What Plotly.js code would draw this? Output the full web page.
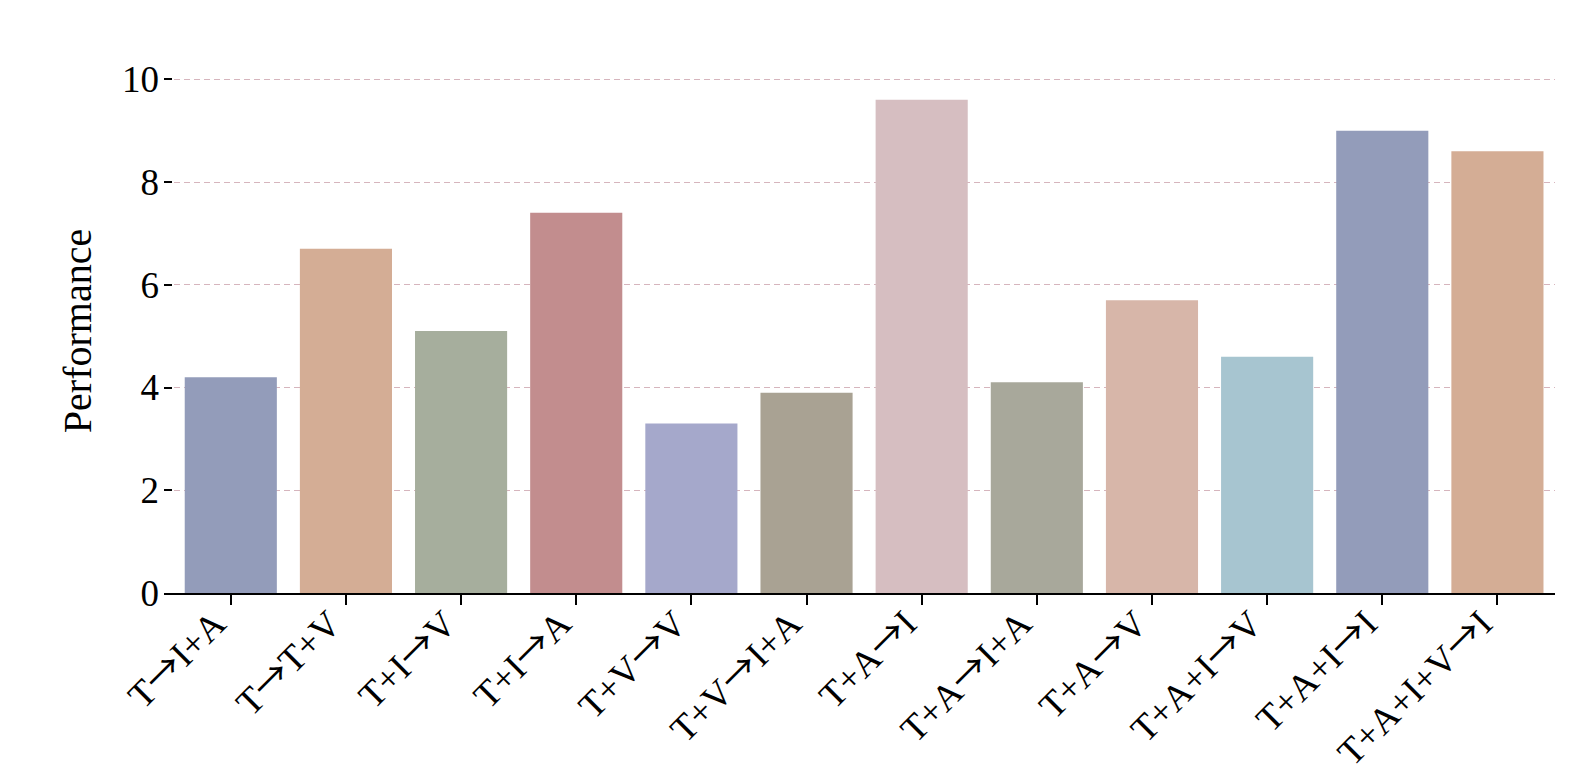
<!DOCTYPE html>
<html>
<head>
<meta charset="utf-8">
<script src="https://cdn.plot.ly/plotly-3.0.1.min.js"></script>
<style>html,body{margin:0;padding:0;background:#fff;}#chart{width:1594px;height:774px;}</style>
</head>
<body>
<div id="chart"></div>
<script>
const categories = ["T\u2192I+A","T\u2192T+V","T+I\u2192V","T+I\u2192A","T+V\u2192V","T+V\u2192I+A","T+A\u2192I","T+A\u2192I+A","T+A\u2192V","T+A+I\u2192V","T+A+I\u2192I","T+A+I+V\u2192I"];
const performance = [4.2, 6.7, 5.1, 7.4, 3.3, 3.9, 9.6, 4.1, 5.7, 4.6, 9.0, 8.6];
const barColors = ["#939cba","#d4ad95","#a6ae9d","#c28d8e","#a5a8cb","#a9a293","#d6bec1","#a8a89b","#d7b6a9","#a7c5d0","#939cba","#d4ad95"];
const yTicks = [0, 2, 4, 6, 8, 10];

const font = "Liberation Serif, Times New Roman, serif";
const arrowSpan = '<span style="font-family:Noto Sans CJK SC">\u2192</span>';
const tickText = categories.map(c => c.split("\u2192").join(arrowSpan));
const trace = {
  type: "bar",
  x: categories.map((c, i) => i),
  y: performance,
  width: 0.8,
  marker: {color: barColors, line: {width: 0}},
  hoverinfo: "x+y"
};
const layout = {
  width: 1594, height: 774,
  margin: {l: 164, r: 39, t: 69, b: 181},
  paper_bgcolor: "#fff", plot_bgcolor: "#fff",
  showlegend: false,
  font: {family: font, color: "#000"},
  xaxis: {
    range: [-0.58, 11.5],
    tickmode: "array",
    tickvals: categories.map((c, i) => i),
    ticktext: tickText,
    tickangle: -45,
    ticks: "outside", ticklen: 10, tickwidth: 2, tickcolor: "#000",
    ticklabelstandoff: -18,
    ticklabelshift: -16,
    showline: true, linewidth: 2, linecolor: "#000",
    showgrid: false, zeroline: false,
    tickfont: {family: font, size: 37, color: "#000"}
  },
  yaxis: {
    range: [0, 10.2],
    tickmode: "array",
    tickvals: yTicks,
    ticktext: yTicks.map(String),
    ticks: "inside", ticklen: 8, tickwidth: 2, tickcolor: "#000",
    ticklabelstandoff: 4,
    showline: false, zeroline: false,
    showgrid: true, gridcolor: "#d6b5bd", gridwidth: 1, griddash: "6px,4px",
    tickfont: {family: font, size: 37, color: "#000"},
    title: {text: "Performance", font: {family: font, size: 40, color: "#000"}, standoff: 18}
  }
};
Plotly.newPlot("chart", [trace], layout, {displayModeBar: false, staticPlot: true});
</script>
</body>
</html>
